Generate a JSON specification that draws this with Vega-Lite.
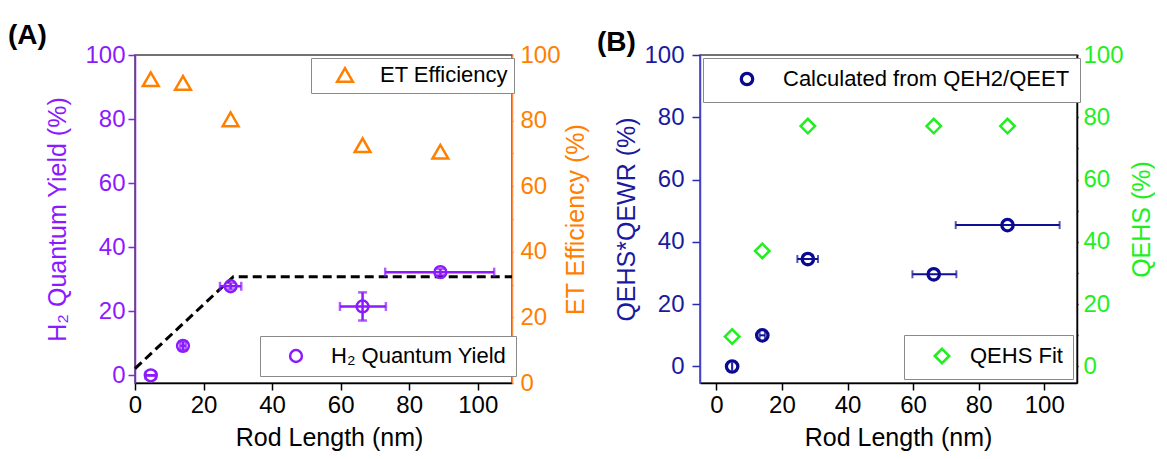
{
  "$schema": "https://vega.github.io/schema/vega-lite/v6.json",
  "background": "white",
  "padding": {"left": 7, "top": 21, "right": 0, "bottom": 0},
  "config": {
    "font": "Liberation Sans",
    "view": {"stroke": "#444444", "strokeWidth": 1.5},
    "axis": {"grid": false, "labelFont": "Liberation Sans", "titleFont": "Liberation Sans", "labelFontSize": 24, "titleFontSize": 25, "titleFontWeight": "normal", "domainWidth": 1.5, "tickWidth": 1.5, "labelOverlap": false, "labelFlush": false},
    "legend": {"labelFont": "Liberation Sans", "labelFontSize": 22, "labelColor": "black", "strokeColor": "#8a8a8a", "fillColor": "white", "orient": "none", "labelLimit": 600}
  },
  "datasets": {
    "et": [
      {"L": 4.6, "ET": 92.6},
      {"L": 14.0, "ET": 91.5},
      {"L": 27.9, "ET": 80.4},
      {"L": 66.4, "ET": 72.5},
      {"L": 89.1, "ET": 70.5}
    ],
    "h2": [
      {"L": 4.6, "QY": 0.0, "xlo": 3.1, "xhi": 6.1, "ylo": 0.0, "yhi": 0.0},
      {"L": 14.0, "QY": 9.2, "xlo": 13.2, "xhi": 14.8, "ylo": 7.8, "yhi": 10.6},
      {"L": 27.9, "QY": 27.8, "xlo": 24.8, "xhi": 31.0, "ylo": 26.8, "yhi": 28.8},
      {"L": 66.4, "QY": 21.5, "xlo": 59.8, "xhi": 73.2, "ylo": 17.1, "yhi": 25.9},
      {"L": 89.1, "QY": 32.2, "xlo": 73.0, "xhi": 104.8, "ylo": 31.2, "yhi": 33.2}
    ],
    "fitline": [
      {"L": 0, "Y": 2.1},
      {"L": 28.7, "Y": 30.8},
      {"L": 110, "Y": 30.8}
    ],
    "calc": [
      {"L": 4.8, "V": 0.0, "xlo": 4.8, "xhi": 4.8},
      {"L": 14.0, "V": 10.0, "xlo": 13.2, "xhi": 14.8},
      {"L": 27.9, "V": 34.5, "xlo": 24.7, "xhi": 31.0},
      {"L": 66.3, "V": 29.6, "xlo": 59.8, "xhi": 73.2},
      {"L": 88.8, "V": 45.4, "xlo": 73.0, "xhi": 104.7}
    ],
    "hs": [
      {"L": 4.8, "F": 9.6},
      {"L": 14.0, "F": 37.1},
      {"L": 27.9, "F": 77.2},
      {"L": 66.3, "F": 77.2},
      {"L": 88.8, "F": 77.2}
    ]
  },
  "spacing": 7,
  "hconcat": [
    {
      "width": 377,
      "height": 328,
      "title": {"text": "(A)", "anchor": "start", "frame": "group", "fontSize": 28, "fontWeight": "bold", "font": "Liberation Sans", "color": "black", "dx": -127, "dy": 9, "offset": 2},
      "layer": [
        {
          "data": {"name": "et"},
          "mark": {"type": "point", "filled": false, "color": "#FF8000", "strokeWidth": 2.5, "size": 250, "opacity": 1},
          "encoding": {
            "x": {"field": "L", "type": "quantitative", "title": "Rod Length (nm)", "scale": {"domain": [0, 110], "nice": false, "zero": false},
              "axis": {"values": [0, 10, 20, 30, 40, 50, 60, 70, 80, 90, 100], "labelExpr": "datum.value % 20 === 0 ? datum.label : ''", "domainColor": "black", "tickColor": "black", "labelColor": "black", "titleColor": "black", "tickSize": 7, "labelPadding": 3, "titlePadding": 8, "titleX": 194,
                "encode": {"ticks": {"update": {"y2": {"signal": "datum.value % 20 === 0 ? 7 : 4"}}}}}},
            "y": {"field": "ET", "type": "quantitative", "title": "ET Efficiency (%)", "scale": {"domain": [0, 100], "nice": false, "zero": false},
              "axis": {"orient": "right", "values": [0, 10, 20, 30, 40, 50, 60, 70, 80, 90, 100], "labelExpr": "datum.value % 20 === 0 ? datum.label : ''", "domainColor": "#FF8C40", "tickColor": "#FF8000", "labelColor": "#FF8000", "titleColor": "#FF8000", "tickSize": 1, "labelPadding": 7, "titlePadding": 3, "titleAngle": 270, "titleBaseline": "top",
                "encode": {"ticks": {"update": {"x2": {"signal": "datum.value % 20 === 0 ? -7 : -4"}}}}}},
            "shape": {"datum": "ET Efficiency", "type": "nominal", "scale": {"range": ["triangle-up"]},
              "legend": {"title": null, "orient": "none", "legendX": 176, "legendY": 3, "padding": 6, "symbolOffset": 17, "labelOffset": 24, "symbolSize": 250, "symbolStrokeWidth": 2.5, "symbolStrokeColor": "#FF8000", "symbolFillColor": "transparent"}}
          }
        },
        {
          "layer": [
            {
              "data": {"name": "fitline"},
              "mark": {"type": "line", "color": "black", "strokeDash": [9, 5], "strokeWidth": 3},
              "encoding": {
                "x": {"field": "L", "type": "quantitative", "title": "Rod Length (nm)"},
                "y": {"field": "Y", "type": "quantitative", "title": "H₂ Quantum Yield  (%)"}
              }
            },
            {
              "data": {"name": "h2"},
              "mark": {"type": "errorbar", "color": "#8C1AFF", "thickness": 2.5, "ticks": {"size": 9, "thickness": 2.5}},
              "encoding": {
                "x": {"field": "xlo", "type": "quantitative", "title": "Rod Length (nm)"},
                "x2": {"field": "xhi"},
                "y": {"field": "QY", "type": "quantitative", "title": "H₂ Quantum Yield  (%)"}
              }
            },
            {
              "data": {"name": "h2"},
              "mark": {"type": "errorbar", "color": "#8C1AFF", "thickness": 2.5, "ticks": {"size": 9, "thickness": 2.5}},
              "encoding": {
                "x": {"field": "L", "type": "quantitative", "title": "Rod Length (nm)"},
                "y": {"field": "ylo", "type": "quantitative", "title": "H₂ Quantum Yield  (%)"},
                "y2": {"field": "yhi"}
              }
            },
            {
              "data": {"name": "h2"},
              "mark": {"type": "point", "filled": false, "color": "#8C1AFF", "strokeWidth": 2.5, "size": 140, "opacity": 1},
              "encoding": {
                "x": {"field": "L", "type": "quantitative", "title": "Rod Length (nm)"},
                "y": {"field": "QY", "type": "quantitative", "title": "H₂ Quantum Yield  (%)", "scale": {"domain": [-2.4, 100], "nice": false, "zero": false},
                  "axis": {"orient": "left", "values": [0, 10, 20, 30, 40, 50, 60, 70, 80, 90, 100], "labelExpr": "datum.value % 20 === 0 ? datum.label : ''", "domainColor": "#8C1AFF", "tickColor": "#8C1AFF", "labelColor": "#8C1AFF", "titleColor": "#8C1AFF", "tickSize": 7, "labelPadding": 3, "titlePadding": 14,
                    "encode": {"ticks": {"update": {"x2": {"signal": "datum.value % 20 === 0 ? -7 : -4"}}}}}},
                "shape": {"datum": "H₂ Quantum Yield", "type": "nominal", "scale": {"range": ["circle"]},
                  "legend": {"title": null, "orient": "none", "legendX": 125, "legendY": 281, "padding": 9, "symbolOffset": 16, "labelOffset": 24, "symbolSize": 140, "symbolStrokeWidth": 2.5, "symbolStrokeColor": "#8C1AFF", "symbolFillColor": "transparent"}}
              }
            }
          ]
        }
      ],
      "resolve": {"scale": {"y": "independent", "shape": "independent"}, "legend": {"shape": "independent"}}
    },
    {
      "width": 377,
      "height": 328,
      "title": {"text": "(B)", "anchor": "start", "frame": "group", "fontSize": 28, "fontWeight": "bold", "font": "Liberation Sans", "color": "black", "dx": -103, "dy": 16, "offset": 2},
      "layer": [
        {
          "layer": [
            {
              "data": {"name": "calc"},
              "mark": {"type": "errorbar", "color": "#101096", "thickness": 2, "ticks": {"size": 8, "thickness": 2}},
              "encoding": {
                "x": {"field": "xlo", "type": "quantitative", "title": "Rod Length (nm)"},
                "x2": {"field": "xhi"},
                "y": {"field": "V", "type": "quantitative", "title": "QEHS*QEWR (%)"}
              }
            },
            {
              "data": {"name": "calc"},
              "mark": {"type": "point", "filled": false, "color": "#0A0A90", "strokeWidth": 3.3, "size": 130, "opacity": 1},
              "encoding": {
                "x": {"field": "L", "type": "quantitative", "title": "Rod Length (nm)", "scale": {"domain": [-5, 110], "nice": false, "zero": false},
                  "axis": {"values": [0, 10, 20, 30, 40, 50, 60, 70, 80, 90, 100], "labelExpr": "datum.value % 20 === 0 ? datum.label : ''", "domainColor": "black", "tickColor": "black", "labelColor": "black", "titleColor": "black", "tickSize": 7, "labelPadding": 3, "titlePadding": 8, "titleX": 198,
                    "encode": {"ticks": {"update": {"y2": {"signal": "datum.value % 20 === 0 ? 7 : 4"}}}}}},
                "y": {"field": "V", "type": "quantitative", "title": "QEHS*QEWR (%)", "scale": {"domain": [-5.3, 100], "nice": false, "zero": false},
                  "axis": {"orient": "left", "values": [0, 10, 20, 30, 40, 50, 60, 70, 80, 90, 100], "labelExpr": "datum.value % 20 === 0 ? datum.label : ''", "domainColor": "#4545C8", "tickColor": "#2A2AAA", "labelColor": "#1A1AA0", "titleColor": "#1A1AA0", "tickSize": 8, "labelPadding": 8, "titlePadding": 4,
                    "encode": {"ticks": {"update": {"x2": {"signal": "datum.value % 20 === 0 ? -8 : -4"}}}}}},
                "shape": {"datum": "Calculated from QEH2/QEET", "type": "nominal", "scale": {"range": ["circle"]},
                  "legend": {"title": null, "orient": "none", "legendX": 3, "legendY": 3, "padding": 10, "symbolOffset": 23, "labelOffset": 25, "symbolSize": 130, "symbolStrokeWidth": 3.3, "symbolStrokeColor": "#0A0A90", "symbolFillColor": "transparent"}}
              }
            }
          ]
        },
        {
          "data": {"name": "hs"},
          "mark": {"type": "point", "filled": false, "color": "#1EF01E", "strokeWidth": 2.5, "size": 210, "opacity": 1},
          "encoding": {
            "x": {"field": "L", "type": "quantitative", "title": "Rod Length (nm)"},
            "y": {"field": "F", "type": "quantitative", "title": "QEHS (%)", "scale": {"domain": [-5.3, 100], "nice": false, "zero": false},
              "axis": {"orient": "right", "values": [0, 10, 20, 30, 40, 50, 60, 70, 80, 90, 100], "labelExpr": "datum.value % 20 === 0 ? datum.label : ''", "domainColor": "black", "tickColor": "black", "labelColor": "#1EF01E", "titleColor": "#1EF01E", "tickSize": 1, "labelPadding": 5, "titlePadding": 6, "titleAngle": 270, "titleBaseline": "top",
                "encode": {"ticks": {"update": {"x2": {"signal": "datum.value % 20 === 0 ? -8 : -4"}}}}}},
            "shape": {"datum": "QEHS Fit", "type": "nominal", "scale": {"range": ["diamond"]},
              "legend": {"title": null, "orient": "none", "legendX": 204, "legendY": 280, "padding": 10, "symbolOffset": 17, "labelOffset": 17, "symbolSize": 210, "symbolStrokeWidth": 2.5, "symbolStrokeColor": "#1EF01E", "symbolFillColor": "transparent"}}
          }
        }
      ],
      "resolve": {"scale": {"y": "independent", "shape": "independent"}, "legend": {"shape": "independent"}}
    }
  ]
}
